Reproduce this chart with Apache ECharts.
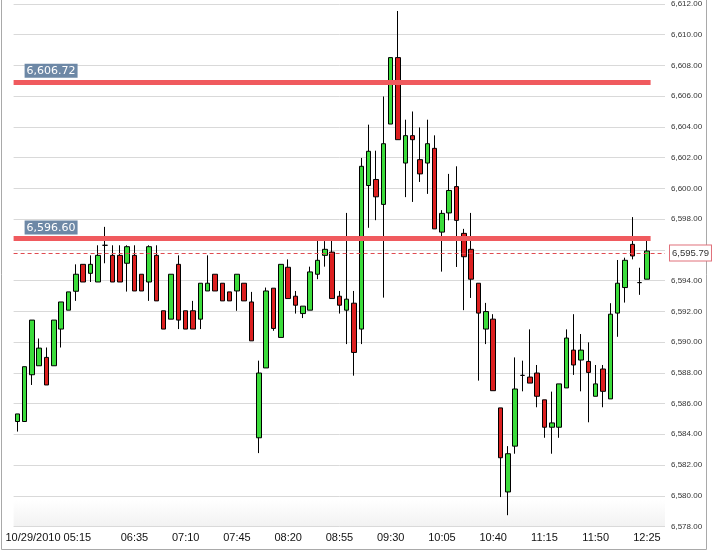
<!DOCTYPE html>
<html>
<head>
<meta charset="utf-8">
<style>html,body{margin:0;padding:0;background:#fff;}#c{width:715px;height:554px;}</style>
<script src="https://cdn.jsdelivr.net/npm/echarts@6/dist/echarts.min.js"></script>
</head>
<body>
<div id="c"></div>
<script>
const startDate = '10/29/2010';
const times = [
  '05:15','05:20','05:25','05:30','05:35','05:40','05:45','05:50','05:55',
  '06:00','06:05','06:10','06:15','06:20','06:25','06:30','06:35','06:40','06:45','06:50','06:55',
  '07:00','07:05','07:10','07:15','07:20','07:25','07:30','07:35','07:40','07:45','07:50','07:55',
  '08:00','08:05','08:10','08:15','08:20','08:25','08:30','08:35','08:40','08:45','08:50','08:55',
  '09:00','09:05','09:10','09:15','09:20','09:25','09:30','09:35','09:40','09:45','09:50','09:55',
  '10:00','10:05','10:10','10:15','10:20','10:25','10:30','10:35','10:40','10:45','10:50','10:55',
  '11:00','11:05','11:10','11:15','11:20','11:25','11:30','11:35','11:40','11:45','11:50','11:55',
  '12:00','12:05','12:10','12:15','12:20','12:25'
];
const shownTickIdx = [16, 23, 30, 37, 44, 51, 58, 65, 72, 79, 86];

const opens = [
  6584.78, 6584.78, 6587.80, 6588.38, 6588.92, 6588.38, 6590.75, 6591.97, 6593.19, 6594.93,
  6594.35, 6593.79, 6596.16, 6595.51, 6595.51, 6595.00, 6595.51, 6594.29, 6593.79, 6595.51,
  6591.93, 6591.39, 6594.93, 6591.93, 6591.93, 6591.39, 6593.21, 6594.29, 6593.71, 6593.15,
  6593.21, 6593.71, 6592.50, 6583.73, 6588.24, 6593.39, 6590.21, 6594.74, 6592.87, 6591.75,
  6591.97, 6594.29, 6595.51, 6595.72, 6592.87, 6591.97, 6592.42, 6590.75, 6600.02, 6600.41,
  6598.80, 6603.99, 6608.28, 6601.47, 6603.24, 6601.69, 6601.47, 6602.42, 6597.01, 6598.25,
  6599.95, 6596.93, 6595.90, 6593.71, 6590.75, 6591.39, 6585.66, 6580.23, 6583.19, 6587.76,
  6587.65, 6587.91, 6586.18, 6584.41, 6584.41, 6586.95, 6589.39, 6588.75, 6588.66, 6586.41,
  6588.17, 6586.24, 6591.78, 6593.43, 6596.22, 6593.75, 6593.97
];
const closes = [
  6585.27, 6588.32, 6591.33, 6589.52, 6587.14, 6591.33, 6592.50, 6593.15, 6594.29, 6593.79,
  6594.93, 6595.51, 6596.16, 6593.79, 6593.79, 6596.07, 6593.21, 6593.21, 6596.07, 6592.57,
  6590.75, 6594.29, 6591.33, 6590.75, 6590.75, 6593.71, 6593.71, 6593.21, 6592.57, 6592.57,
  6594.29, 6592.57, 6589.99, 6587.91, 6593.21, 6590.79, 6594.93, 6592.72, 6592.29, 6592.23,
  6594.44, 6595.19, 6595.90, 6592.72, 6592.29, 6592.68, 6589.24, 6601.26, 6602.23, 6599.29,
  6602.72, 6608.28, 6602.98, 6603.24, 6602.98, 6600.77, 6602.72, 6597.22, 6598.22, 6599.70,
  6597.77, 6595.42, 6593.97, 6591.78, 6591.88, 6586.77, 6582.44, 6582.70, 6586.88, 6587.76,
  6587.26, 6586.41, 6584.41, 6584.69, 6587.21, 6590.17, 6588.43, 6589.39, 6587.95, 6587.21,
  6586.73, 6591.71, 6593.71, 6595.19, 6595.47, 6593.75, 6595.79
];
const lows = [
  6584.13, 6584.78, 6587.14, 6588.38, 6587.14, 6588.38, 6589.56, 6591.97, 6592.57, 6593.79,
  6593.79, 6593.79, 6595.00, 6593.79, 6593.79, 6593.17, 6593.21, 6593.21, 6592.57, 6592.57,
  6590.75, 6591.39, 6590.75, 6590.75, 6590.75, 6590.75, 6593.21, 6593.21, 6592.57, 6592.57,
  6591.93, 6592.57, 6589.99, 6582.74, 6588.24, 6590.64, 6590.21, 6592.72, 6591.75, 6591.46,
  6591.97, 6593.97, 6594.78, 6592.72, 6591.75, 6589.78, 6587.74, 6589.78, 6597.29, 6597.78,
  6592.78, 6603.99, 6602.98, 6599.27, 6598.96, 6600.25, 6599.48, 6597.22, 6594.46, 6597.77,
  6594.76, 6591.97, 6592.76, 6587.42, 6589.78, 6586.77, 6579.90, 6578.73, 6582.70, 6586.73,
  6587.26, 6585.70, 6583.73, 6582.70, 6583.73, 6586.95, 6587.79, 6586.73, 6584.73, 6586.41,
  6585.70, 6586.24, 6590.25, 6592.46, 6595.25, 6592.96, 6593.97
];
const highs = [
  6585.27, 6588.32, 6591.33, 6590.14, 6589.56, 6591.33, 6592.50, 6593.15, 6594.93, 6594.93,
  6595.51, 6596.16, 6597.35, 6596.16, 6596.16, 6596.16, 6596.16, 6594.29, 6596.16, 6596.16,
  6591.93, 6594.29, 6595.51, 6591.93, 6592.57, 6593.71, 6595.51, 6594.29, 6593.71, 6593.15,
  6594.29, 6593.71, 6593.15, 6588.71, 6593.43, 6593.39, 6594.93, 6595.25, 6593.21, 6592.23,
  6594.78, 6596.75, 6596.43, 6596.75, 6593.21, 6598.25, 6593.21, 6601.80, 6603.95, 6602.27,
  6605.77, 6608.28, 6611.29, 6604.27, 6604.80, 6603.77, 6604.27, 6603.26, 6598.43, 6600.77,
  6601.26, 6597.22, 6598.25, 6593.71, 6592.44, 6591.71, 6585.66, 6583.19, 6588.92, 6588.71,
  6590.73, 6588.43, 6586.18, 6586.71, 6587.21, 6590.73, 6591.71, 6590.43, 6589.89, 6588.43,
  6588.43, 6592.42, 6595.21, 6595.36, 6597.98, 6594.71, 6596.75
];
const levelLines = [6606.72, 6596.60];
const lastPrice = 6595.79;
const yMin = 6578, yMax = 6612, yStep = 2;

function fmt(v) {
  const s = v.toFixed(2);
  const parts = s.split('.');
  return parts[0].replace(/\B(?=(\d{3})+(?!\d))/g, ',') + '.' + parts[1];
}

const ohlc = opens.map((o, i) => [o, closes[i], lows[i], highs[i]]);

const chart = echarts.init(document.getElementById('c'), null, {renderer: 'canvas'});
const gridTop = -1.5, gridBottom = 27.5;
chart.setOption({
  animation: false,
  backgroundColor: '#fff',
  grid: [
    {left: 13.6, right: 64.4, top: gridTop, bottom: gridBottom, containLabel: false},
    {left: 13.6, right: 50, top: gridTop, bottom: gridBottom, containLabel: false, show: true,
     borderWidth: 0,
     backgroundColor: {type: 'linear', x: 0, y: 0, x2: 0, y2: 1,
       colorStops: [{offset: 0, color: '#ffffff'}, {offset: 0.95, color: '#ffffff'}, {offset: 1, color: '#f2f2f2'}]}}
  ],
  xAxis: [
    {type: 'category', gridIndex: 0, data: times, boundaryGap: true,
     axisLine: {show: false}, axisTick: {show: false}, splitLine: {show: false},
     axisLabel: {
       interval: (idx) => shownTickIdx.indexOf(idx) >= 0,
       margin: 6, fontSize: 11, fontFamily: 'Liberation Sans', color: '#111'
     }},
    {type: 'value', gridIndex: 1, min: 0, max: 1, show: false}
  ],
  yAxis: [
    {type: 'value', gridIndex: 0, min: yMin, max: yMax, interval: yStep, show: false},
    {type: 'value', gridIndex: 1, position: 'right', min: yMin, max: yMax, interval: yStep,
     axisLine: {show: false}, axisTick: {show: false},
     splitLine: {show: true, lineStyle: {color: '#d9d9d9', width: 1}},
     axisLabel: {margin: 6, fontSize: 8, fontFamily: 'Liberation Sans', color: '#333', formatter: fmt}}
  ],
  series: [
    {
      type: 'candlestick', xAxisIndex: 0, yAxisIndex: 0, data: ohlc, barWidth: 5,
      itemStyle: {color: '#3bdc3b', color0: '#dc1f1f', borderColor: '#000', borderColor0: '#000',
                  borderColorDoji: '#000', borderWidth: 1},
      markLine: {
        silent: true, symbol: ['none', 'none'], animation: false,
        lineStyle: {color: '#f05a5e', width: 5, type: 'solid', opacity: 1},
        label: {
          show: true, position: 'insideStartTop', distance: [11, 4],
          formatter: (p) => fmt(p.value),
          backgroundColor: '#6d88a6', color: '#fff', fontFamily: 'DejaVu Sans', fontSize: 11,
          padding: [2, 2, 1, 2]
        },
        emphasis: {disabled: true},
        data: levelLines.map(v => ({yAxis: v}))
      }
    },
    {
      type: 'line', xAxisIndex: 1, yAxisIndex: 1, data: [], silent: true,
      itemStyle: {color: '#e04a50'},
      markLine: {
        silent: true, symbol: ['none', 'none'], animation: false,
        lineStyle: {color: '#e04a50', width: 1, type: [4, 3], opacity: 1},
        label: {
          show: true, position: 'end', distance: 5,
          formatter: (p) => fmt(p.value),
          backgroundColor: '#fff', borderColor: '#e0707a', borderWidth: 1,
          color: '#333', fontFamily: 'Liberation Sans', fontSize: 9.5, padding: [3, 2, 2, 2]
        },
        emphasis: {disabled: true},
        data: [{yAxis: lastPrice}]
      }
    }
  ],
  graphic: [
    {type: 'rect', z: 0, silent: true, shape: {x: 1.5, y: -5, width: 705, height: 554.5},
     style: {fill: 'none', stroke: '#a9a9a9', lineWidth: 1}},
    {type: 'text', left: 5.5, top: 532, silent: true,
     style: {text: startDate + ' ' + times[0], font: '11px "Liberation Sans"', fill: '#111'}}
  ]
});
</script>
</body>
</html>
